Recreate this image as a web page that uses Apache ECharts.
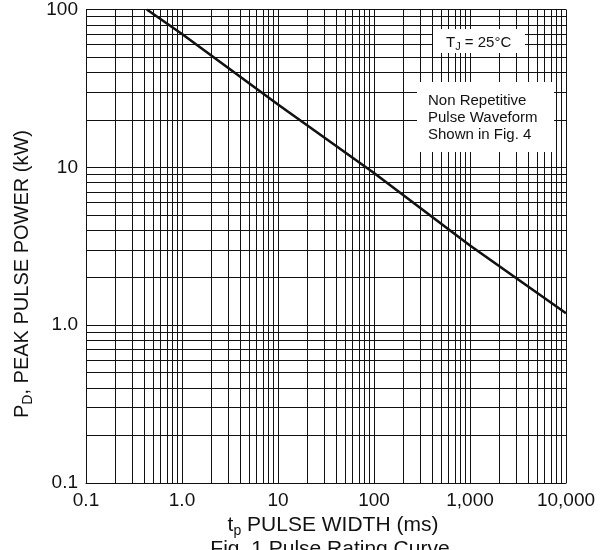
<!DOCTYPE html>
<html>
<head>
<meta charset="utf-8">
<script src="https://cdn.jsdelivr.net/npm/echarts@6/dist/echarts.min.js"></script>
<style>html,body{margin:0;padding:0;background:#fff;}#c{width:608px;height:550px;}</style>
</head>
<body>
<div id="c"></div>
<script>
// Data
var pulseWidth = [0.43, 1, 10, 100, 1000, 10000];     // ms
var peakPower  = [100, 70, 25, 9.2, 3.2, 1.19];         // kW
var xTickValues = [0.1, 1, 10, 100, 1000, 10000];
var xTickLabels = ['0.1', '1.0', '10', '100', '1,000', '10,000'];
var yTickValues = [0.1, 1, 10, 100];
var yTickLabels = ['0.1', '1.0', '10', '100'];
var minorMultipliers = [2, 3, 4, 5, 6, 7, 8, 9];

function labelFor(vals, labels) {
  return function (v) {
    for (var i = 0; i < vals.length; i++) {
      if (Math.abs(Math.log10(v) - Math.log10(vals[i])) < 1e-6) return labels[i];
    }
    return '';
  };
}
var minorX = [], minorY = [];
xTickValues.slice(0, -1).forEach(function (d) {
  minorMultipliers.forEach(function (m) { minorX.push({ xAxis: d * m }); });
});
yTickValues.slice(0, -1).forEach(function (d) {
  minorMultipliers.forEach(function (m) { minorY.push({ yAxis: d * m }); });
});

var FONT = 'Liberation Sans, Arial, sans-serif';
var chart = echarts.init(document.getElementById('c'));
chart.setOption({
  animation: false,
  backgroundColor: '#fff',
  textStyle: { fontFamily: FONT },
  grid: { left: 86, right: 42, top: 9, bottom: 67 },
  xAxis: {
    type: 'log', logBase: 10, min: 0.1, max: 10000,
    axisLine: { show: true, lineStyle: { color: '#111', width: 1 } },
    axisTick: { show: false },
    axisLabel: { color: '#111', fontSize: 19, fontFamily: FONT, margin: 8, formatter: labelFor(xTickValues, xTickLabels) },
    splitLine: { show: true, lineStyle: { color: '#111', width: 1 } },
    name: '{t|t}{s|p}{t| PULSE WIDTH (ms)}',
    nameLocation: 'middle', nameGap: 24,
    nameTextStyle: { padding: [0, 0, 0, 14], rich: { t: { fontSize: 21, color: '#111', fontFamily: FONT }, s: { fontSize: 14, color: '#111', fontFamily: FONT, padding: [12, 0, 0, 0] } } }
  },
  yAxis: {
    type: 'log', logBase: 10, min: 0.1, max: 100,
    axisLine: { show: true, lineStyle: { color: '#111', width: 1 } },
    axisTick: { show: false },
    axisLabel: { color: '#111', fontSize: 19, fontFamily: FONT, margin: 8, padding: [6, 0, 0, 0], formatter: labelFor(yTickValues, yTickLabels) },
    splitLine: { show: true, lineStyle: { color: '#111', width: 1 } }
  },
  series: [
    {
      type: 'line', silent: true, data: [], symbol: 'none',
      markLine: {
        silent: true, symbol: ['none', 'none'], label: { show: false },
        lineStyle: { color: '#111', width: 1, type: 'solid' },
        animation: false,
        data: minorX.concat(minorY)
      }
    },
    {
      type: 'line', symbol: 'none', smooth: false, z: 5,
      lineStyle: { color: '#111', width: 2.6 },
      data: pulseWidth.map(function (x, i) { return [x, peakPower[i]]; })
    }
  ],
  graphic: [
    { type: 'text', z: 101, x: 22, y: 274, rotation: Math.PI / 2,
      style: { align: 'center', verticalAlign: 'middle',
        rich: { t: { fontSize: 20, fill: '#111', fontFamily: FONT }, s: { fontSize: 14, fill: '#111', fontFamily: FONT, padding: [12, 0, 0, 0] } },
        text: '{t|P}{s|D}{t|, PEAK PULSE POWER (kW)}' } },
    { type: 'rect', z: 100, shape: { x: 433, y: 29, width: 92, height: 24 }, style: { fill: '#fff' } },
    { type: 'text', z: 101, left: 446, top: 35, style: { rich: { a: { fontSize: 15, fill: '#111', fontFamily: FONT }, b: { fontSize: 11, fill: '#111', fontFamily: FONT, padding: [9, 0, 0, 0] } }, text: '{a|T}{b|J}{a| = 25°C}' } },
    { type: 'rect', z: 100, shape: { x: 417, y: 82, width: 137, height: 70 }, style: { fill: '#fff' } },
    { type: 'text', z: 101, left: 428, top: 92, style: { text: 'Non Repetitive\nPulse Waveform\nShown in Fig. 4', fontSize: 15, lineHeight: 17, fill: '#111', fontFamily: FONT } },
    { type: 'text', z: 101, x: 330, y: 539, style: { align: 'center', verticalAlign: 'top', text: 'Fig. 1 Pulse Rating Curve', fontSize: 21, fill: '#111', fontFamily: FONT } }
  ]
});
</script>
</body>
</html>
